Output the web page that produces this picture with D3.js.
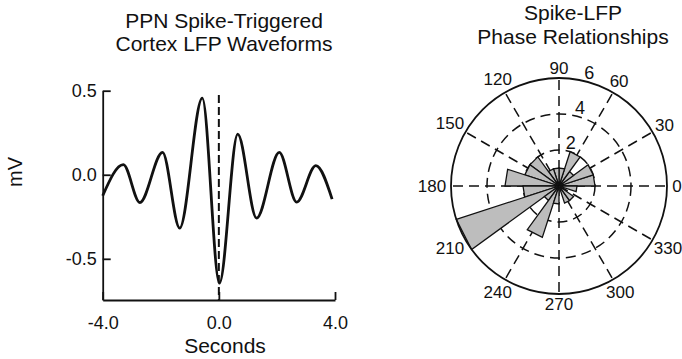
<!DOCTYPE html>
<html>
<head>
<meta charset="utf-8">
<script src="https://cdn.jsdelivr.net/npm/d3@7"></script>
<style>
  body { margin: 0; background: #fff; }
  svg { display: block; font-family: "Liberation Sans", Arial, sans-serif; }
  .axis path, .axis line { stroke: #111; stroke-width: 1.8px; }
  .axis text { font-size: 18px; fill: #111; font-family: "Liberation Sans", Arial, sans-serif; }
</style>
</head>
<body>
<div id="chart"></div>
<script>
// LFP waveform (extrema)
const timeS = [-4.0, -3.29, -2.72, -1.94, -1.35, -0.57, 0.02, 0.65, 1.30, 2.08, 2.68, 3.34, 3.90]
const lfpMV = [-0.125, 0.06, -0.165, 0.133, -0.317, 0.456, -0.645, 0.242, -0.258, 0.133, -0.163, 0.054, -0.145]
const xTicks = [-4, 0, 4]
const yTicks = [-0.5, 0, 0.5]

// rose histogram, 20 bins of 18 degrees starting at 0
const binWidthDeg = 18
const phaseCounts = [2, 2, 1, 2, 1, 1, 1, 2, 2, 3, 2, 6, 1, 3, 1, 0, 1, 1, 0, 1]
const angleLabels = [0, 30, 60, 90, 120, 150, 180, 210, 240, 270, 300, 330]
const radialTicks = [2, 4, 6]

const width = 682
const height = 359

const svg = d3.select("#chart").append("svg")
    .attr("width", width)
    .attr("height", height)

// plain hyphen like the original, not the unicode minus
const fmt = d => d3.format(".1f")(d).replace("\u2212", "-")

// ---------- left: waveform ----------
const x = d3.scaleLinear().domain([-4, 4]).range([102.7, 335])
const y = d3.scaleLinear().domain([-0.745, 0.5]).range([300, 90.7])

const title1 = svg.append("text")
    .attr("text-anchor", "middle")
    .style("font-size", "21px")
    .attr("fill", "#111")
title1.append("tspan").attr("x", 224).attr("y", 28).text("PPN Spike-Triggered")
title1.append("tspan").attr("x", 224).attr("y", 51).text("Cortex LFP Waveforms")

svg.append("g")
    .attr("class", "axis")
    .attr("transform", `translate(${x(-4)},0)`)
    .call(d3.axisLeft(y).tickValues(yTicks).tickSizeInner(-8).tickSizeOuter(0)
        .tickPadding(6).tickFormat(fmt))

svg.append("g")
    .attr("class", "axis")
    .attr("transform", `translate(0,${y.range()[0]})`)
    .call(d3.axisBottom(x).tickValues(xTicks).tickSizeInner(-8).tickSizeOuter(0)
        .tickPadding(16).tickFormat(fmt))

// spike time marker
svg.append("line")
    .attr("x1", x(0)).attr("x2", x(0))
    .attr("y1", 95).attr("y2", y.range()[0])
    .attr("stroke", "#111")
    .attr("stroke-width", 2)
    .attr("stroke-dasharray", "8,4")

const line = d3.line()
    .x((d, i) => x(timeS[i]))
    .y(d => y(d))
    .curve(d3.curveMonotoneX)

svg.append("path")
    .datum(lfpMV)
    .attr("d", line)
    .attr("fill", "none")
    .attr("stroke", "#111")
    .attr("stroke-width", 2.8)
    .attr("stroke-linejoin", "round")

svg.append("text")
    .attr("transform", "translate(22,172) rotate(-90)")
    .attr("text-anchor", "middle")
    .style("font-size", "20px")
    .attr("fill", "#111")
    .text("mV")

svg.append("text")
    .attr("x", 225)
    .attr("y", 353)
    .attr("text-anchor", "middle")
    .style("font-size", "21px")
    .attr("fill", "#111")
    .text("Seconds")

// ---------- right: polar rose ----------
const cx = 559
const cy = 186
const r = d3.scaleLinear().domain([0, 6]).range([0, 108])
const rad = deg => deg * Math.PI / 180
const px = (deg, v) => cx + r(v) * Math.cos(rad(deg))
const py = (deg, v) => cy - r(v) * Math.sin(rad(deg))

const title2 = svg.append("text")
    .attr("text-anchor", "middle")
    .style("font-size", "21px")
    .attr("fill", "#111")
title2.append("tspan").attr("x", 573).attr("y", 20).text("Spike-LFP")
title2.append("tspan").attr("x", 573).attr("y", 44).text("Phase Relationships")

const grid = svg.append("g")

// dashed inner rings
grid.selectAll("circle.ring")
    .data(radialTicks.slice(0, -1))
    .enter()
    .append("circle")
        .attr("class", "ring")
        .attr("cx", cx).attr("cy", cy)
        .attr("r", d => r(d))
        .attr("fill", "none")
        .attr("stroke", "#111")
        .attr("stroke-width", 1.5)
        .attr("stroke-dasharray", "10,6")

// spokes
grid.selectAll("line.spoke")
    .data(angleLabels)
    .enter()
    .append("line")
        .attr("class", "spoke")
        .attr("x1", cx).attr("y1", cy)
        .attr("x2", d => px(d, 6)).attr("y2", d => py(d, 6))
        .attr("stroke", "#111")
        .attr("stroke-width", 1.5)
        .attr("stroke-dasharray", "10,6")

// rose wedges
svg.selectAll("path.wedge")
    .data(phaseCounts)
    .enter()
    .append("path")
        .attr("class", "wedge")
        .attr("d", (d, i) => {
            const a0 = i * binWidthDeg
            const a1 = a0 + binWidthDeg
            return `M${cx},${cy}L${px(a0, d)},${py(a0, d)}L${px(a1, d)},${py(a1, d)}Z`
        })
        .attr("fill", d => d > 0 ? "#bdbdbd" : "none")
        .attr("stroke", "#111")
        .attr("stroke-width", 1.3)
        .attr("stroke-linejoin", "miter")

// outer ring
svg.append("circle")
    .attr("cx", cx).attr("cy", cy)
    .attr("r", r(6))
    .attr("fill", "none")
    .attr("stroke", "#111")
    .attr("stroke-width", 1.8)

// angle labels
const labelR = d => 118 + Math.abs(Math.cos(rad(d))) * (String(d).length - 1) * 4.5

svg.selectAll("text.angle")
    .data(angleLabels)
    .enter()
    .append("text")
        .attr("class", "angle")
        .attr("x", d => cx + labelR(d) * Math.cos(rad(d)))
        .attr("y", d => cy - labelR(d) * Math.sin(rad(d)))
        .attr("text-anchor", "middle")
        .attr("dominant-baseline", "central")
        .style("font-size", "17px")
        .attr("fill", "#111")
        .text(d => d)

// radial labels
svg.selectAll("text.rlabel")
    .data(radialTicks)
    .enter()
    .append("text")
        .attr("class", "rlabel")
        .attr("x", d => cx + (r(d) + 9) * Math.cos(rad(75)))
        .attr("y", d => cy - (r(d) + 9) * Math.sin(rad(75)))
        .attr("text-anchor", "middle")
        .attr("dominant-baseline", "central")
        .style("font-size", "18px")
        .attr("fill", "#111")
        .text(d => d)
</script>
</body>
</html>
